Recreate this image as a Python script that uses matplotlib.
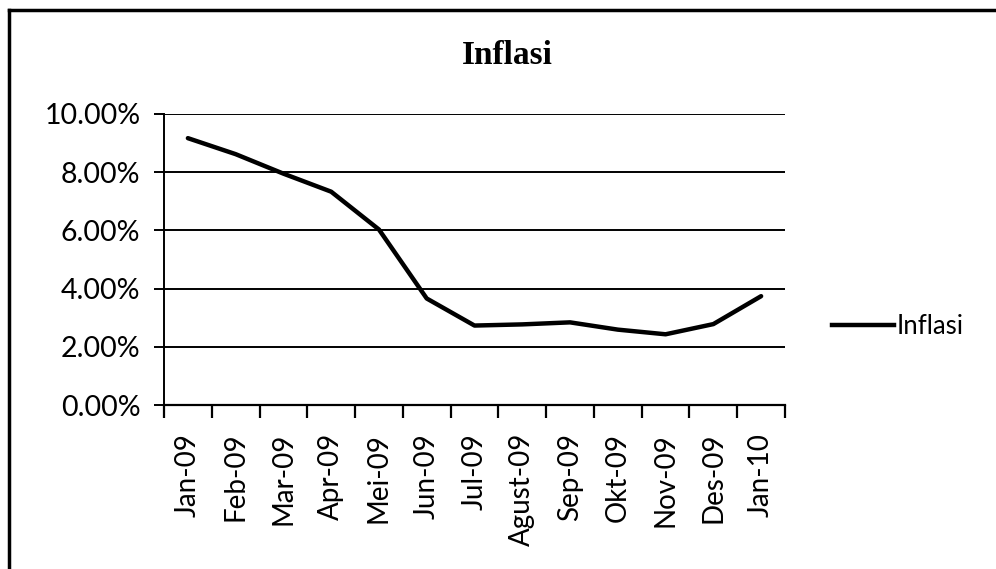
import numpy as np
import matplotlib.pyplot as plt
from matplotlib.ticker import FuncFormatter, FixedLocator
from matplotlib.lines import Line2D

# data
months = ['Jan-09', 'Feb-09', 'Mar-09', 'Apr-09', 'Mei-09', 'Jun-09', 'Jul-09',
          'Agust-09', 'Sep-09', 'Okt-09', 'Nov-09', 'Des-09', 'Jan-10']
inflasi = [9.17, 8.62, 7.95, 7.33, 6.03, 3.66, 2.73, 2.77, 2.84, 2.59, 2.43, 2.78, 3.74]

sans = 'Lato'

fig = plt.figure(figsize=(9.96, 5.69), dpi=100)
ax = fig.add_axes([164 / 996, 1 - 405 / 569, (785 - 164) / 996, (405 - 114) / 569])

x = np.arange(len(months))
ax.plot(x, np.array(inflasi) / 100, color='black', linewidth=3.2,
        solid_joinstyle='round', solid_capstyle='round', label='Inflasi', zorder=3)

ax.set_xlim(-0.5, len(months) - 0.5)
ax.set_ylim(0, 0.10)
ax.set_yticks(np.arange(0, 0.101, 0.02))
ax.yaxis.set_major_formatter(FuncFormatter(lambda v, p: f'{v * 100:.2f}%'))
ax.yaxis.grid(True, color='black', linewidth=1.4)
ax.set_axisbelow(True)

ax.set_xticks(x)
ax.set_xticklabels(months, rotation=90, fontfamily=sans, fontsize=20)
ax.xaxis.set_minor_locator(FixedLocator(np.arange(-0.5, len(months), 1)))
ax.tick_params(axis='x', which='major', length=0, pad=20)
ax.tick_params(axis='x', which='minor', length=9, width=1.6, direction='out')
ax.tick_params(axis='y', length=7, width=1.4, direction='out', pad=10)
for lab in ax.get_yticklabels():
    lab.set_fontfamily(sans)
    lab.set_fontsize(20.5)

for s in ['top', 'right']:
    ax.spines[s].set_visible(False)
ax.spines['left'].set_linewidth(1.4)
ax.spines['bottom'].set_linewidth(1.6)

fig.text(507 / 996, 1 - 56 / 569, 'Inflasi', ha='center', va='center',
         fontfamily='Liberation Serif', fontsize=24, fontweight='bold')

handle = [Line2D([0], [0], color='black', linewidth=3.2)]
fig.legend(handle, ['Inflasi'], loc='center left', bbox_to_anchor=(809 / 996, 1 - 326 / 569),
           frameon=False, handlelength=2.4, handletextpad=0.1,
           prop={'family': sans, 'size': 18.5})

# chart border (top and left edges visible)
fig.add_artist(Line2D([9 / 996, 9 / 996], [0, 1 - 10 / 569], color='black', linewidth=2.5))
fig.add_artist(Line2D([9 / 996, 1], [1 - 10 / 569, 1 - 10 / 569], color='black', linewidth=2.5))

fig.savefig('out.png', dpi=100)
